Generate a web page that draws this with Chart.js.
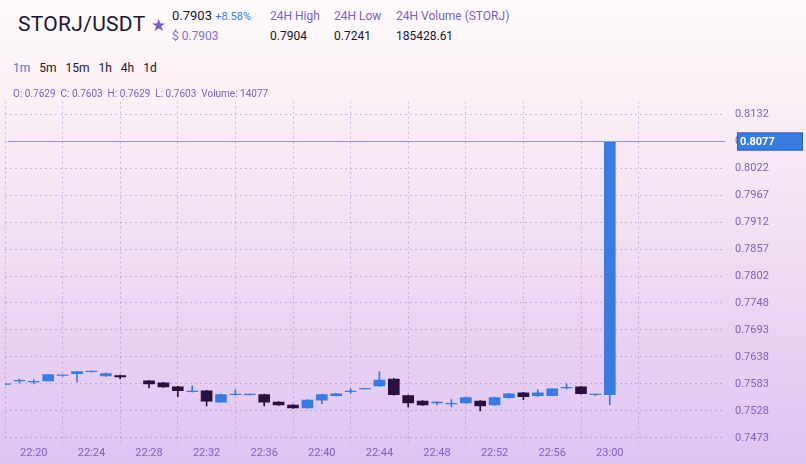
<!DOCTYPE html>
<html><head><meta charset="utf-8">
<script src="https://cdn.jsdelivr.net/npm/chart.js@4"></script>
<style>
html,body{margin:0;padding:0;}
body{width:806px;height:464px;overflow:hidden;position:relative;font-family:Roboto,"Noto Sans",sans-serif;
background:linear-gradient(180deg,#fefafb 0%,#fbf1f6 20%,#efd9f2 60%,#dec4f4 100%);}
.a{position:absolute;white-space:nowrap;}
#wrap{position:absolute;left:0;top:85px;width:806px;height:379px;}
</style></head><body>
<div class="a" style="left:18px;top:12px;font-size:21px;color:#1a1630;letter-spacing:0.3px">STORJ/USDT <span style="color:#7b5fc4;font-size:17px">★</span></div>
<div class="a" style="left:172px;top:8px;font-size:13px;color:#1a1630">0.7903 <span style="color:#3b7ddf;font-size:11px">+8.58%</span></div>
<div class="a" style="left:172px;top:29px;font-size:12px;color:#8a6fcb">$ 0.7903</div>
<div class="a" style="left:270px;top:9px;font-size:12px;color:#7a62c2">24H High</div>
<div class="a" style="left:334px;top:9px;font-size:12px;color:#7a62c2">24H Low</div>
<div class="a" style="left:396px;top:9px;font-size:12px;color:#7a62c2">24H Volume (STORJ)</div>
<div class="a" style="left:270px;top:29px;font-size:12px;color:#1a1630">0.7904</div>
<div class="a" style="left:334px;top:29px;font-size:12px;color:#1a1630">0.7241</div>
<div class="a" style="left:396px;top:29px;font-size:12px;color:#1a1630">185428.61</div>
<div class="a" style="left:13px;top:61px;font-size:12px;color:#1a1630;word-spacing:6px"><span style="color:#3b7ddf">1m</span> 5m 15m 1h 4h 1d</div>
<div id="wrap"><canvas id="c"></canvas></div>
<div class="a" style="left:13px;top:88px;font-size:10px;color:#7a62c2">O: 0.7629&nbsp; C: 0.7603&nbsp; H: 0.7629&nbsp; L: 0.7603&nbsp; Volume: 14077</div>
<script>
const minutes=[18,19,20,21,22,23,24,25,26,28,29,30,31,32,33,34,35,36,37,38,39,40,41,42,43,44,45,46,47,48,49,50,51,52,53,54,55,56,57,58,59,60];
const opens=[0.7582,0.7589,0.7587,0.7589,0.7600,0.7604,0.7608,0.7599,0.7600,0.7589,0.7585,0.7577,0.7567,0.7569,0.7546,0.7561,0.7561,0.7561,0.7546,0.7540,0.7534,0.7550,0.7559,0.7567,0.7573,0.7579,0.7593,0.7559,0.7548,0.7544,0.7542,0.7544,0.7548,0.7540,0.7555,0.7565,0.7559,0.7559,0.7575,0.7577,0.7561,0.7561];
const closes=[0.7582,0.7589,0.7587,0.7602,0.7600,0.7608,0.7608,0.7604,0.7597,0.7583,0.7577,0.7569,0.7567,0.7548,0.7561,0.7561,0.7561,0.7546,0.7540,0.7534,0.7550,0.7561,0.7563,0.7567,0.7573,0.7591,0.7561,0.7544,0.7540,0.7546,0.7542,0.7555,0.7538,0.7555,0.7563,0.7557,0.7565,0.7573,0.7575,0.7563,0.7561,0.8077];
const highs=[0.7583,0.7593,0.7592,0.7602,0.7601,0.7608,0.7609,0.7605,0.7601,0.7590,0.7586,0.7578,0.7579,0.7570,0.7562,0.7571,0.7562,0.7562,0.7547,0.7541,0.7551,0.7562,0.7564,0.7573,0.7574,0.7608,0.7594,0.7560,0.7549,0.7547,0.7551,0.7556,0.7549,0.7556,0.7564,0.7566,0.7571,0.7574,0.7583,0.7578,0.7562,0.8077];
const lows=[0.7581,0.7585,0.7583,0.7589,0.7598,0.7587,0.7607,0.7598,0.7593,0.7575,0.7576,0.7557,0.7566,0.7538,0.7545,0.7560,0.7560,0.7538,0.7539,0.7533,0.7533,0.7542,0.7558,0.7563,0.7572,0.7578,0.7560,0.7536,0.7539,0.7540,0.7536,0.7543,0.7528,0.7539,0.7554,0.7551,0.7557,0.7558,0.7573,0.7562,0.7559,0.7540];
const xTickLabels=["22:20","22:24","22:28","22:32","22:36","22:40","22:44","22:48","22:52","22:56","23:00"];
const yTickLabels=["0.7473","0.7528","0.7583","0.7638","0.7693","0.7748","0.7802","0.7857","0.7912","0.7967","0.8022","0.8077","0.8132"];
const lastPrice=0.8077;
const BLUE='#3a7be0',DARK='#2b0f40';
const col=i=>closes[i]>=opens[i]?BLUE:DARK;
const bodies=minutes.map((m,i)=>{let a=Math.min(opens[i],closes[i]),b=Math.max(opens[i],closes[i]);if(b-a<0.00012){b=a+0.00012;}return {x:m,y:[a,b]};});
const wicks=minutes.map((m,i)=>({x:m,y:[lows[i],highs[i]]}));
const priceLine={id:'pl',afterDatasetsDraw(ch){const {ctx,chartArea:ca,scales:{y}}=ch;const py=Math.round(y.getPixelForValue(lastPrice))+0.5;
ctx.save();ctx.strokeStyle='#8b93ea';ctx.lineWidth=1;ctx.beginPath();ctx.moveTo(8,py);ctx.lineTo(ca.right,py);ctx.stroke();
ctx.fillStyle='#3a7be0';ctx.fillRect(737,py-9,66,18);ctx.strokeStyle='#2a5fc0';ctx.strokeRect(737.5,py-8.5,65,17);
ctx.fillStyle='#fff';ctx.font='bold 11px Roboto';ctx.textBaseline='middle';ctx.fillText(lastPrice.toFixed(4),740,py+1);ctx.restore();}};
new Chart(document.getElementById('c'),{type:'bar',
data:{datasets:[
{data:wicks,backgroundColor:minutes.map((m,i)=>col(i)),barThickness:1,grouped:false,order:2},
{data:bodies,backgroundColor:minutes.map((m,i)=>col(i)),barThickness:11,grouped:false,order:1,borderWidth:0}]},
options:{responsive:true,maintainAspectRatio:false,animation:false,
layout:{padding:{left:5,right:0,top:3,bottom:0}},
plugins:{legend:{display:false},tooltip:{enabled:false}},
scales:{
x:{type:'linear',min:18,max:68,offset:false,
afterBuildTicks:s=>{s.ticks=xTickLabels.map((t,i)=>({value:20+4*i}));},
ticks:{callback:(v,i)=>xTickLabels[i],color:'#7a62c2',font:{size:11,family:'Roboto'},maxRotation:0,padding:4},
grid:{color:'rgba(150,120,210,0.45)',lineWidth:1,tickLength:0,drawTicks:false},border:{display:false,dash:[2,3]}},
y:{position:'right',min:0.7463,max:0.8158,
afterBuildTicks:s=>{s.ticks=yTickLabels.map(t=>({value:parseFloat(t)}));},
ticks:{callback:(v,i)=>yTickLabels[i],color:'#7a62c2',font:{size:11,family:'Roboto'},padding:10},
grid:{color:'rgba(150,120,210,0.45)',drawTicks:false},border:{display:false,dash:[2,3]},afterFit:s=>{s.width=81;}}}},
plugins:[priceLine]});
</script></body></html>
